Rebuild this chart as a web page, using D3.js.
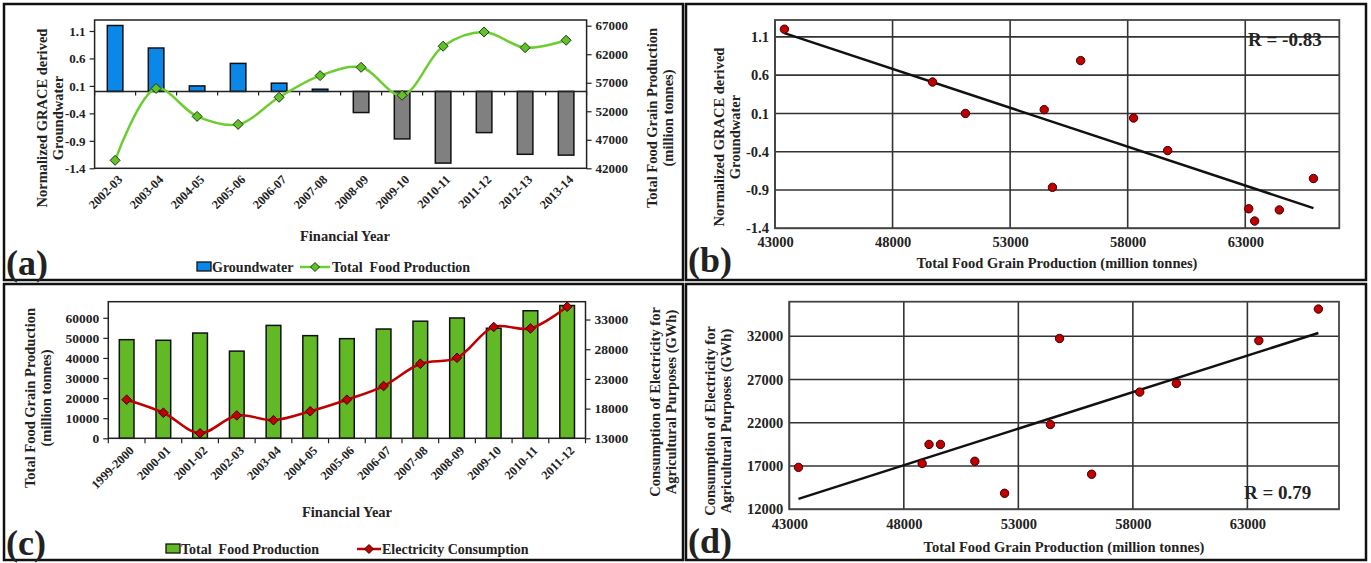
<!DOCTYPE html>
<html><head><meta charset="utf-8">
<script src="https://cdn.jsdelivr.net/npm/d3@7"></script>
<style>
body{margin:0;background:#fff}
svg{display:block}
text{font-family:"Liberation Serif","Times New Roman",serif;font-weight:bold;fill:#222}
</style>
</head><body>
<svg id="chart" width="1371" height="563"></svg>
<script>
// ---------- data ----------
const yearsA = ["2002-03","2003-04","2004-05","2005-06","2006-07","2007-08","2008-09","2009-10","2010-11","2011-12","2012-13","2013-14"];
const groundwater = [1.2, 0.79, 0.1, 0.51, 0.15, 0.04, -0.385, -0.865, -1.305, -0.75, -1.145, -1.16];
const foodA = [43400, 56000, 51100, 49700, 54450, 58250, 59700, 54800, 63400, 65900, 63150, 64450];

const yearsC = ["1999-2000","2000-01","2001-02","2002-03","2003-04","2004-05","2005-06","2006-07","2007-08","2008-09","2009-10","2010-11","2011-12"];
const foodC = [49100, 48800, 52400, 43400, 56200, 51100, 49600, 54400, 58300, 59900, 54800, 63500, 66100];
const electricity = [19500, 17300, 13850, 16850, 16050, 17550, 19500, 21800, 25550, 26550, 31750, 31500, 35150];

const ticksGW = [1.1, 0.6, 0.1, -0.4, -0.9, -1.4];
const ticksFoodA = [42000, 47000, 52000, 57000, 62000, 67000];
const ticksFoodC = [0, 10000, 20000, 30000, 40000, 50000, 60000];
const ticksElecC = [13000, 18000, 23000, 28000, 33000];
const ticksFoodX = [43000, 48000, 53000, 58000, 63000];
const ticksElecD = [12000, 17000, 22000, 27000, 32000];
const rB = "R = -0.83", rD = "R = 0.79";

// ---------- helpers ----------
const svg = d3.select("#chart");
const INK = "#222";
function styleAxis(g, size){
  g.attr("font-family", null).attr("font-size", null);
  g.select(".domain").remove();
  g.selectAll(".tick line").attr("stroke", INK).attr("stroke-width", 1.2);
  g.selectAll(".tick text").style("font-size", size + "px").style("fill", INK);
}
function vtitle(lines, xs, cy, size){
  lines.forEach((t,i)=>{
    svg.append("text").attr("transform",`translate(${xs[i]},${cy}) rotate(-90)`)
      .attr("text-anchor","middle").style("font-size", size+"px").text(t);
  });
}
function htext(t, x, y, size, anchor){
  return svg.append("text").attr("x",x).attr("y",y).attr("text-anchor",anchor||"middle")
    .style("font-size", size+"px").text(t);
}
function regression(xs, ys){
  const n = xs.length, mx = d3.mean(xs), my = d3.mean(ys);
  let sxy = 0, sxx = 0;
  for (let i=0;i<n;i++){ sxy += (xs[i]-mx)*(ys[i]-my); sxx += (xs[i]-mx)**2; }
  const b = sxy/sxx; return {b, a: my - b*mx};
}
const diamond = r => `M0,${-r}L${r},0L0,${r}L${-r},0Z`;

// panel frames
[[4,4,679,276],[686,4,680,276],[4,284,679,276],[686,284,680,276]].forEach(r=>{
  svg.append("rect").attr("x",r[0]).attr("y",r[1]).attr("width",r[2]).attr("height",r[3])
    .attr("fill","none").attr("stroke","#111").attr("stroke-width",2.5);
});

// ========== Panel (a) ==========
{
  const P = {x0:94.6, x1:586.6, y0:20, y1:168.3};
  const x = d3.scaleBand().domain(yearsA).range([P.x0,P.x1]).paddingInner(0.62).paddingOuter(0.31);
  const yL = d3.scaleLinear().domain([-1.4,1.3]).range([P.y1,P.y0]);
  const yR = d3.scaleLinear().domain([42000,68000]).range([P.y1,P.y0]);
  const cx = d => x(d) + x.bandwidth()/2;

  svg.append("g").selectAll("rect").data(yearsA).join("rect")
    .attr("x", d=>x(d)).attr("width", x.bandwidth())
    .attr("y", (d,i)=>Math.min(yL(groundwater[i]), yL(0)))
    .attr("height", (d,i)=>Math.abs(yL(groundwater[i]) - yL(0)))
    .attr("fill", (d,i)=>groundwater[i] >= 0 ? "#0a88ea" : "#808080")
    .attr("stroke", "#111").attr("stroke-width", 1.5);

  // frame
  svg.append("rect").attr("x",P.x0).attr("y",P.y0).attr("width",P.x1-P.x0).attr("height",P.y1-P.y0)
    .attr("fill","none").attr("stroke",INK).attr("stroke-width",1.5);
  // zero axis with boundary ticks
  svg.append("line").attr("x1",P.x0).attr("x2",P.x1).attr("y1",yL(0)).attr("y2",yL(0)).attr("stroke",INK).attr("stroke-width",1.5);
  svg.append("g").selectAll("line").data(d3.range(yearsA.length+1)).join("line")
    .attr("x1", i=>P.x0 + i*x.step()).attr("x2", i=>P.x0 + i*x.step())
    .attr("y1", yL(0)).attr("y2", yL(0)+4).attr("stroke",INK).attr("stroke-width",1.2);

  const gl = svg.append("g").attr("transform",`translate(${P.x0},0)`)
    .call(d3.axisLeft(yL).tickValues(ticksGW).tickSize(5).tickPadding(4).tickFormat(d=>d.toFixed(1)));
  styleAxis(gl, 13);
  const gr = svg.append("g").attr("transform",`translate(${P.x1},0)`)
    .call(d3.axisRight(yR).tickValues(ticksFoodA).tickSize(5).tickPadding(4).tickFormat(d=>String(d)));
  styleAxis(gr, 13);

  // rotated year labels
  svg.append("g").selectAll("text").data(yearsA).join("text")
    .attr("transform", d=>`translate(${cx(d)+5},${P.y1+9}) rotate(-45)`)
    .attr("text-anchor","end").attr("dy","0.35em").style("font-size","12.5px").text(d=>d);

  // smoothed line
  const line = d3.line().x((d,i)=>cx(yearsA[i])).y(d=>yR(d)).curve(d3.curveCatmullRom.alpha(0.5));
  svg.append("path").datum(foodA).attr("d", line).attr("fill","none").attr("stroke","#6ccd2f").attr("stroke-width",2.5);
  svg.append("g").selectAll("path").data(foodA).join("path")
    .attr("d", diamond(5)).attr("transform",(d,i)=>`translate(${cx(yearsA[i])},${yR(d)})`)
    .attr("fill","#62c02a").attr("stroke","#1d3a10").attr("stroke-width",1);

  vtitle(["Normalized GRACE derived","Groundwater"], [47,63], 118, 14.5);
  vtitle(["Total Food Grain Production","(million tonnes)"], [657,673], 118, 14.5);
  htext("Financial Year", 345, 241, 14.5);
  htext("(a)", 6, 275, 36, "start");

  // legend
  svg.append("rect").attr("x",197).attr("y",262).attr("width",14).attr("height",9).attr("fill","#0a88ea").attr("stroke","#111").attr("stroke-width",1.3);
  htext("Groundwater", 212, 272, 14, "start");
  svg.append("line").attr("x1",300).attr("x2",330).attr("y1",267).attr("y2",267).attr("stroke","#6ccd2f").attr("stroke-width",2.5);
  svg.append("path").attr("d",diamond(4.5)).attr("transform","translate(315,267)").attr("fill","#62c02a").attr("stroke","#1d3a10");
  htext("Total  Food Production", 332, 272, 14, "start").attr("xml:space","preserve").style("white-space","pre");
}

// ========== Panel (b) ==========
{
  const P = {x0:775, x1:1339.3, y0:20, y1:228.3};
  const x = d3.scaleLinear().domain([43000,67000]).range([P.x0,P.x1]);
  const y = d3.scaleLinear().domain([-1.4,1.32]).range([P.y1,P.y0]);
  const grid = svg.append("g").attr("stroke","#333").attr("stroke-width",1.6);
  grid.selectAll(".v").data(ticksFoodX).join("line").attr("x1",d=>x(d)).attr("x2",d=>x(d)).attr("y1",P.y0).attr("y2",P.y1);
  grid.selectAll(".h").data(ticksGW).join("line").attr("y1",d=>y(d)).attr("y2",d=>y(d)).attr("x1",P.x0).attr("x2",P.x1);
  svg.append("rect").attr("x",P.x0).attr("y",P.y0).attr("width",P.x1-P.x0).attr("height",P.y1-P.y0)
    .attr("fill","none").attr("stroke","#444").attr("stroke-width",1.8);
  const gl = svg.append("g").attr("transform",`translate(${P.x0},0)`)
    .call(d3.axisLeft(y).tickValues(ticksGW).tickSize(0).tickPadding(6).tickFormat(d=>d.toFixed(1)));
  styleAxis(gl, 14.5);
  const gb = svg.append("g").attr("transform",`translate(0,${P.y1})`)
    .call(d3.axisBottom(x).tickValues(ticksFoodX).tickSize(0).tickPadding(8).tickFormat(d=>String(d)));
  styleAxis(gb, 14.5);

  const reg = regression(foodA, groundwater);
  const xmin = d3.min(foodA), xmax = d3.max(foodA);
  svg.append("line").attr("x1",x(xmin)).attr("y1",y(reg.a+reg.b*xmin)).attr("x2",x(xmax)).attr("y2",y(reg.a+reg.b*xmax))
    .attr("stroke","#111").attr("stroke-width",2.5);
  svg.append("g").selectAll("circle").data(foodA).join("circle")
    .attr("cx",d=>x(d)).attr("cy",(d,i)=>y(groundwater[i])).attr("r",4.2)
    .attr("fill","#c00000").attr("stroke","#3a0000").attr("stroke-width",1);

  htext(rB, 1248, 46, 19, "start");
  vtitle(["Normalized GRACE derived","Groundwater"], [724,740], 137, 14.5);
  htext("Total Food Grain Production (million tonnes)", 1057, 268, 14.5);
  htext("(b)", 688, 272, 36, "start");
}

// ========== Panel (c) ==========
{
  const P = {x0:108.3, x1:585.5, y0:301.7, y1:438.3};
  const x = d3.scaleBand().domain(yearsC).range([P.x0,P.x1]).paddingInner(0.6).paddingOuter(0.3);
  const yL = d3.scaleLinear().domain([0,68000]).range([P.y1,P.y0]);
  const yR = d3.scaleLinear().domain([13000,36000]).range([P.y1,P.y0]);
  const cx = d => x(d) + x.bandwidth()/2;

  svg.append("g").selectAll("rect").data(yearsC).join("rect")
    .attr("x", d=>x(d)).attr("width", x.bandwidth())
    .attr("y", (d,i)=>yL(foodC[i])).attr("height", (d,i)=>yL(0)-yL(foodC[i]))
    .attr("fill","#62b926").attr("stroke","#111").attr("stroke-width",1.5);

  svg.append("rect").attr("x",P.x0).attr("y",P.y0).attr("width",P.x1-P.x0).attr("height",P.y1-P.y0)
    .attr("fill","none").attr("stroke",INK).attr("stroke-width",1.5);
  svg.append("g").selectAll("line").data(d3.range(yearsC.length+1)).join("line")
    .attr("x1", i=>P.x0 + i*x.step()).attr("x2", i=>P.x0 + i*x.step())
    .attr("y1", P.y1).attr("y2", P.y1+5).attr("stroke",INK).attr("stroke-width",1.2);

  const gl = svg.append("g").attr("transform",`translate(${P.x0},0)`)
    .call(d3.axisLeft(yL).tickValues(ticksFoodC).tickSize(5).tickPadding(4).tickFormat(d=>String(d)));
  styleAxis(gl, 13.5);
  const gr = svg.append("g").attr("transform",`translate(${P.x1},0)`)
    .call(d3.axisRight(yR).tickValues(ticksElecC).tickSize(5).tickPadding(4).tickFormat(d=>String(d)));
  styleAxis(gr, 13.5);

  svg.append("g").selectAll("text").data(yearsC).join("text")
    .attr("transform", d=>`translate(${cx(d)+5},${P.y1+10}) rotate(-45)`)
    .attr("text-anchor","end").attr("dy","0.35em").style("font-size","12.5px").text(d=>d);

  const line = d3.line().x((d,i)=>cx(yearsC[i])).y(d=>yR(d)).curve(d3.curveCatmullRom.alpha(0.5));
  svg.append("path").datum(electricity).attr("d", line).attr("fill","none").attr("stroke","#c00000").attr("stroke-width",2.5);
  svg.append("g").selectAll("path").data(electricity).join("path")
    .attr("d", diamond(4.8)).attr("transform",(d,i)=>`translate(${cx(yearsC[i])},${yR(d)})`)
    .attr("fill","#c00000").attr("stroke","#3a0000").attr("stroke-width",1);

  vtitle(["Total Food Grain Production","(million tonnes)"], [35,51], 398, 14.5);
  vtitle(["Consumption of Electricity for","Agricultural Purposes  (GWh)"], [660,676], 402, 14.5);
  htext("Financial Year", 347, 517, 14.5);
  htext("(c)", 6, 555, 36, "start");

  svg.append("rect").attr("x",166).attr("y",544).attr("width",14).attr("height",9).attr("fill","#62b926").attr("stroke","#111").attr("stroke-width",1.3);
  htext("Total  Food Production", 181, 554, 14, "start").style("white-space","pre");
  svg.append("line").attr("x1",357).attr("x2",381).attr("y1",549).attr("y2",549).attr("stroke","#c00000").attr("stroke-width",2.5);
  svg.append("path").attr("d",diamond(4.5)).attr("transform","translate(369,549)").attr("fill","#c00000").attr("stroke","#3a0000");
  htext("Electricity Consumption", 382, 554, 14, "start");
}

// ========== Panel (d) ==========
{
  const P = {x0:789.3, x1:1339, y0:301.7, y1:509.3};
  const x = d3.scaleLinear().domain([43000,67000]).range([P.x0,P.x1]);
  const y = d3.scaleLinear().domain([12000,36000]).range([P.y1,P.y0]);
  const grid = svg.append("g").attr("stroke","#333").attr("stroke-width",1.6);
  grid.selectAll(".v").data(ticksFoodX).join("line").attr("x1",d=>x(d)).attr("x2",d=>x(d)).attr("y1",P.y0).attr("y2",P.y1);
  grid.selectAll(".h").data(ticksElecD).join("line").attr("y1",d=>y(d)).attr("y2",d=>y(d)).attr("x1",P.x0).attr("x2",P.x1);
  svg.append("rect").attr("x",P.x0).attr("y",P.y0).attr("width",P.x1-P.x0).attr("height",P.y1-P.y0)
    .attr("fill","none").attr("stroke","#444").attr("stroke-width",1.8);
  const gl = svg.append("g").attr("transform",`translate(${P.x0},0)`)
    .call(d3.axisLeft(y).tickValues(ticksElecD).tickSize(0).tickPadding(6).tickFormat(d=>String(d)));
  styleAxis(gl, 14.5);
  const gb = svg.append("g").attr("transform",`translate(0,${P.y1})`)
    .call(d3.axisBottom(x).tickValues(ticksFoodX).tickSize(0).tickPadding(9).tickFormat(d=>String(d)));
  styleAxis(gb, 14.5);

  const reg = regression(foodC, electricity);
  const xmin = d3.min(foodC), xmax = d3.max(foodC);
  svg.append("line").attr("x1",x(xmin)).attr("y1",y(reg.a+reg.b*xmin)).attr("x2",x(xmax)).attr("y2",y(reg.a+reg.b*xmax))
    .attr("stroke","#111").attr("stroke-width",2.5);
  svg.append("g").selectAll("circle").data(foodC).join("circle")
    .attr("cx",d=>x(d)).attr("cy",(d,i)=>y(electricity[i])).attr("r",4.2)
    .attr("fill","#c00000").attr("stroke","#3a0000").attr("stroke-width",1);

  htext(rD, 1244, 499, 19, "start");
  vtitle(["Consumption of Electricity for","Agricultural Purposes  (GWh)"], [715,731], 421, 14.5);
  htext("Total Food Grain Production (million tonnes)", 1064, 552, 14.5);
  htext("(d)", 688, 553, 36, "start");
}
</script>
</body></html>
